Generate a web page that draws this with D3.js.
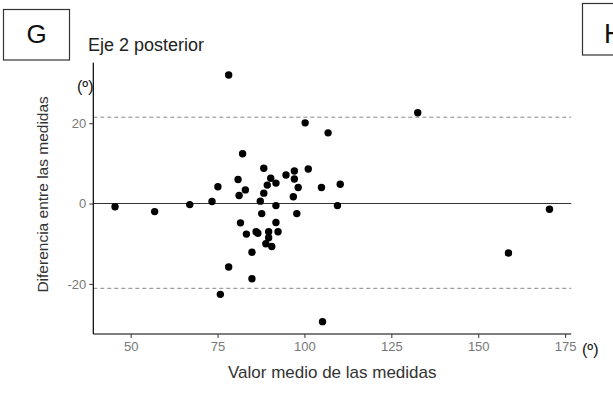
<!DOCTYPE html>
<html>
<head>
<meta charset="utf-8">
<script src="https://cdn.jsdelivr.net/npm/d3@7"></script>
<style>
  html, body { margin: 0; padding: 0; background: #fff; }
  svg { display: block; }
  text { font-family: "Liberation Sans", Arial, sans-serif; }
</style>
</head>
<body>
<svg id="chart" width="613" height="394"></svg>
<script>
// ---- data ----
const meanValues = [45.5, 56.9, 67.0, 73.4, 75.1, 78.2, 82.2, 80.9, 81.2, 83.0,
  81.6, 83.3, 86.1, 86.6, 84.9, 78.2, 84.9, 75.8, 87.3, 87.7,
  88.3, 88.3, 89.3, 90.3, 91.8, 94.7, 97.1, 97.1, 98.2, 96.8,
  101.1, 104.9, 110.3, 109.5, 91.8, 97.8, 91.8, 89.7, 92.4, 89.7,
  88.9, 90.6, 105.2, 100.2, 106.8, 132.6, 158.7, 170.5];
const diffValues = [-0.8, -2.0, -0.25, 0.5, 4.2, 32.0, 12.4, 6.0, 2.0, 3.4,
  -4.8, -7.6, -7.0, -7.4, -12.1, -15.8, -18.7, -22.6, 0.6, -2.5,
  8.8, 2.6, 4.6, 6.3, 5.1, 7.1, 8.1, 6.1, 4.0, 1.7,
  8.6, 4.0, 4.8, -0.5, -0.5, -2.5, -4.7, -7.0, -7.0, -8.5,
  -10.0, -10.7, -29.4, 20.1, 17.6, 22.6, -12.3, -1.4];
const xTicks = [50, 75, 100, 125, 150, 175];
const yTicks = [-20, 0, 20];
const upperLimit = 21.5;
const lowerLimit = -21.1;
const biasLine = 0;
const titleText = "Eje 2 posterior";
const xTitle = "Valor medio de las medidas";
const yTitle = "Diferencia entre las medidas";
const unitLabel = "(º)";

// ---- layout ----
const svg = d3.select("#chart");
const panel = { left: 93.3, right: 571.2, top: 62.7, bottom: 334 };

function expand(arr) {
  const [a, b] = d3.extent(arr);
  const e = (b - a) * 0.05;
  return [a - e, b + e];
}

const x = d3.scaleLinear().domain(expand(meanValues)).range([panel.left, panel.right]);
const y = d3.scaleLinear().domain(expand(diffValues)).range([panel.bottom, panel.top]);

// reference lines
const refG = svg.append("g");
[upperLimit, lowerLimit].forEach(v => {
  refG.append("line")
    .attr("x1", panel.left).attr("x2", panel.right)
    .attr("y1", y(v)).attr("y2", y(v))
    .attr("stroke", "#8a8a8a").attr("stroke-width", 1)
    .attr("stroke-dasharray", "4,3");
});
refG.append("line")
  .attr("x1", panel.left).attr("x2", panel.right)
  .attr("y1", y(biasLine)).attr("y2", y(biasLine))
  .attr("stroke", "#333").attr("stroke-width", 1.1);

// points
svg.append("g").selectAll("circle")
  .data(meanValues.map((m, i) => [m, diffValues[i]]))
  .join("circle")
  .attr("cx", d => x(d[0]))
  .attr("cy", d => y(d[1]))
  .attr("r", 3.7)
  .attr("fill", "#000");

// axes
const fmt = d => String(d);
const xAxis = d3.axisBottom(x).tickValues(xTicks).tickFormat(fmt).tickSize(4).tickPadding(4).tickSizeOuter(0);
const yAxis = d3.axisLeft(y).tickValues(yTicks).tickFormat(fmt).tickSize(4).tickPadding(3).tickSizeOuter(0);

const gx = svg.append("g").attr("transform", `translate(0,${panel.bottom})`).call(xAxis);
const gy = svg.append("g").attr("transform", `translate(${panel.left},0)`).call(yAxis);
gx.select(".domain").attr("d", `M${panel.left},0H${panel.right}`);
gy.select(".domain").attr("d", `M0,${panel.top}V${panel.bottom}`);
[gx, gy].forEach(g => {
  g.select(".domain").attr("stroke", "#000").attr("stroke-width", 1.2);
  g.selectAll(".tick line").attr("stroke", "#333");
  g.selectAll(".tick text").attr("fill", "#777").attr("font-size", 13)
    .attr("font-family", "Liberation Sans, Arial, sans-serif");
});

// titles
svg.append("text").attr("x", 88).attr("y", 51)
  .attr("font-size", 18).attr("fill", "#222").text(titleText);

svg.append("text").attr("x", (panel.left + panel.right) / 2).attr("y", 378)
  .attr("text-anchor", "middle").attr("font-size", 17).attr("fill", "#333").text(xTitle);

svg.append("text")
  .attr("transform", `translate(48,${(panel.top + panel.bottom) / 2 - 4}) rotate(-90)`)
  .attr("text-anchor", "middle").attr("font-size", 15.5).attr("fill", "#333").text(yTitle);

// unit labels
svg.append("text").attr("x", 77).attr("y", 92).attr("font-size", 16)
  .attr("font-family", "DejaVu Sans, sans-serif")
  .attr("fill", "#111").text(unitLabel);
svg.append("text").attr("x", 582).attr("y", 355).attr("font-size", 16)
  .attr("font-family", "DejaVu Sans, sans-serif")
  .attr("fill", "#111").text(unitLabel);

// panel letter boxes
svg.append("rect").attr("x", 3.5).attr("y", 9.5).attr("width", 66).attr("height", 50.5)
  .attr("fill", "none").attr("stroke", "#333").attr("stroke-width", 1.2);
svg.append("text").attr("x", 36.5).attr("y", 43).attr("text-anchor", "middle")
  .attr("font-size", 26).attr("fill", "#111").text("G");
svg.append("rect").attr("x", 582.5).attr("y", 3.5).attr("width", 40).attr("height", 51.5)
  .attr("fill", "none").attr("stroke", "#333").attr("stroke-width", 1.2);
svg.append("text").attr("x", 604).attr("y", 43)
  .attr("font-size", 27).attr("fill", "#111").text("H");
</script>
</body>
</html>
